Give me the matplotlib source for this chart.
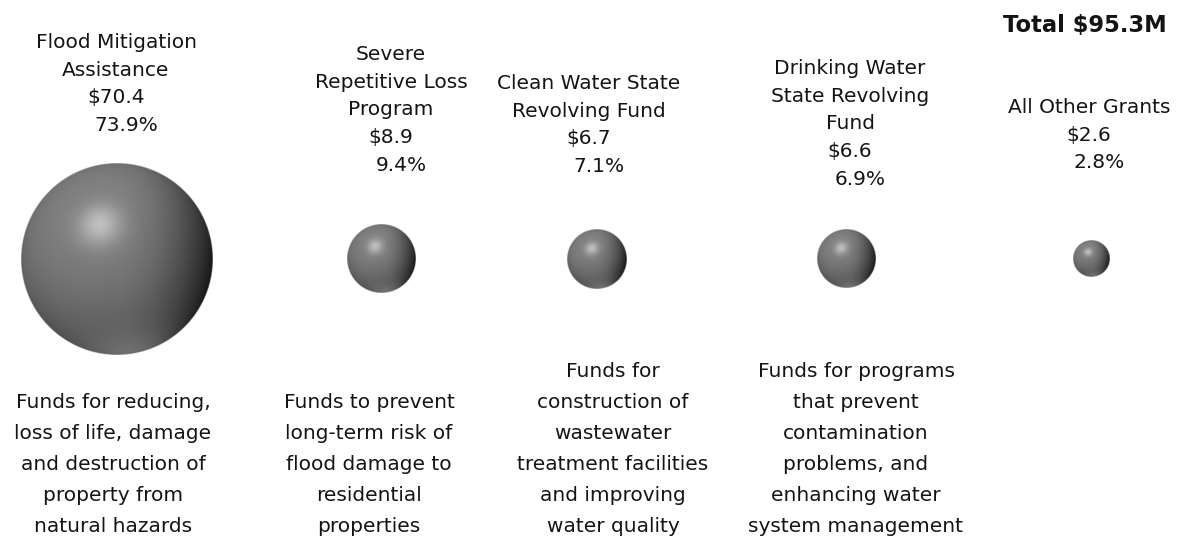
import numpy as np
import matplotlib
matplotlib.use("Agg")
import matplotlib.pyplot as plt

# ---------------- data ----------------
categories = [
    "Flood Mitigation\nAssistance",
    "Severe\nRepetitive Loss\nProgram",
    "Clean Water State\nRevolving Fund",
    "Drinking Water\nState Revolving\nFund",
    "All Other Grants",
]
amounts = [70.4, 8.9, 6.7, 6.6, 2.6]          # $M
shares = [73.9, 9.4, 7.1, 6.9, 2.8]           # %
descriptions = [
    "Funds for reducing,\nloss of life, damage\nand destruction of\nproperty from\nnatural hazards",
    "Funds to prevent\nlong-term risk of\nflood damage to\nresidential\nproperties",
    "Funds for\nconstruction of\nwastewater\ntreatment facilities\nand improving\nwater quality",
    "Funds for programs\nthat prevent\ncontamination\nproblems, and\nenhancing water\nsystem management",
    "",
]
total_label = "Total $95.3M"

# ---------------- layout ----------------
W, H = 1177, 542
bubble_x = [117, 381, 597, 846, 1091]
bubble_y = 259
size_k = 11.44                      # radius = k * sqrt(value)
label_x = [116, 391, 589, 850, 1089]
label_top = [48, 60, 89, 74, 113]
label_step = 27.7
pct_dx = 10
desc_x = [113, 369, 613, 856, 0]
desc_bottom = 532
desc_step = 31
fs = 14.5
txt_color = "#141414"

fig = plt.figure(figsize=(W / 100, H / 100), dpi=100)
ax = fig.add_axes([0, 0, 1, 1])
ax.set_xlim(0, W)
ax.set_ylim(H, 0)
ax.axis("off")


def sphere_rgba(r):
    n = int(np.ceil(4 * r)) + 2
    t = np.linspace(-1, 1, n)
    X, Y = np.meshgrid(t, t)          # Y positive = down
    rho2 = X ** 2 + Y ** 2
    Z = np.sqrt(np.clip(1 - rho2, 0, 1))
    L1 = np.array([-0.33, -0.66, 0.67]); L1 /= np.linalg.norm(L1)
    Hv = L1 + np.array([0, 0, 1.0]); Hv /= np.linalg.norm(Hv)
    Lb = np.array([0.15, 0.95, 0.15]); Lb /= np.linalg.norm(Lb)
    d = X * L1[0] + Y * L1[1] + Z * L1[2]
    nh = np.clip(X * Hv[0] + Y * Hv[1] + Z * Hv[2], 0, 1)
    nb = np.clip(X * Lb[0] + Y * Lb[1] + Z * Lb[2], 0, 1)
    v = (0.37 + 0.16 * d - 0.22 * np.clip(X, 0, 1) ** 2
         + 0.20 * nb ** 8 + 0.24 * nh ** 40)
    v = v * (0.88 + 0.12 * Z)
    v = np.clip(v, 0, 1)
    rho = np.sqrt(rho2)
    alpha = np.clip((1 - rho) * (n / 2) + 0.5, 0, 1)
    img = np.dstack([v, v, v, alpha])
    return img


for i, val in enumerate(amounts):
    r = size_k * np.sqrt(val)
    cx = bubble_x[i]
    ax.imshow(sphere_rgba(r), extent=[cx - r, cx + r, bubble_y + r, bubble_y - r],
              origin="upper", interpolation="bilinear", zorder=2)

    lines = categories[i].split("\n") + [f"${amounts[i]:.1f}", f"{shares[i]:.1f}%"]
    for j, ln in enumerate(lines):
        dx = pct_dx if j == len(lines) - 1 else 0
        ax.text(label_x[i] + dx, label_top[i] + j * label_step, ln, ha="center",
                va="baseline", fontsize=fs, color=txt_color, family="DejaVu Sans")

    if descriptions[i]:
        dl = descriptions[i].split("\n")
        for j, ln in enumerate(dl):
            y = desc_bottom - (len(dl) - 1 - j) * desc_step
            ax.text(desc_x[i], y, ln, ha="center", va="baseline", fontsize=fs,
                    color=txt_color, family="DejaVu Sans")

ax.text(1085, 32, total_label, ha="center", va="baseline", fontsize=16.3,
        fontweight="bold", color=txt_color, family="DejaVu Sans")

fig.savefig("out.png", dpi=100, facecolor="white")
